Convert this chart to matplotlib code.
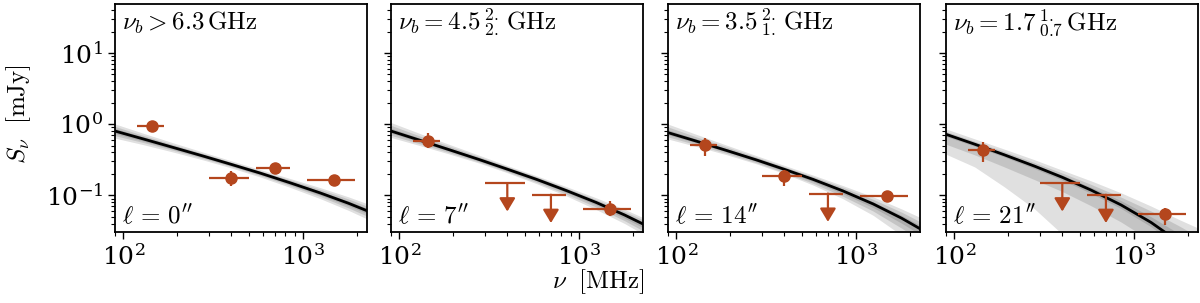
"""
Radio spectra in four slices along the tail (l = 0, 7, 14, 21 arcsec),
with the fitted spectral model and its credible bands.
"""
import numpy as np
import matplotlib
matplotlib.use('Agg')
import matplotlib.pyplot as plt
from matplotlib.ticker import NullFormatter

plt.rcParams['mathtext.fontset'] = 'cm'
plt.rcParams['font.family'] = ['DejaVu Serif']
plt.rcParams['axes.formatter.use_mathtext'] = True
plt.rcParams['axes.linewidth'] = 1.3

# ---- data ----
slice_labels = [r"$\ell\,=\,0''$", r"$\ell\,=\,7''$", r"$\ell\,=\,14''$", r"$\ell\,=\,21''$"]
break_labels = [r'$\nu_b > 6.3\,\mathrm{GHz}$',
                r'$\nu_b = 4.5\,{}^{2.}_{2.}\,\mathrm{GHz}$',
                r'$\nu_b = 3.5\,{}^{2.}_{1.}\,\mathrm{GHz}$',
                r'$\nu_b = 1.7\,{}^{1.}_{0.7}\,\mathrm{GHz}$']

# frequency grid of the model curve [MHz]
freq_grid = [90, 130, 190, 280, 400, 580, 850, 1250, 1800, 2280]

# median model flux [mJy]
model_p1 = [0.80, 0.617, 0.470, 0.355, 0.272, 0.205, 0.150, 0.108, 0.0772, 0.0607]
model_p2 = [0.80, 0.595, 0.437, 0.317, 0.233, 0.168, 0.117, 0.0794, 0.0529, 0.0395]
model_p3 = [0.76, 0.575, 0.428, 0.314, 0.232, 0.167, 0.115, 0.0756, 0.0477, 0.0339]
model_p4 = [0.72, 0.523, 0.371, 0.257, 0.179, 0.118, 0.0732, 0.0415, 0.0217, 0.0132]

# band half-widths in dex (inner, middle, outer), above / below the median
band_hi_p1 = [[0.035, 0.03, 0.025, 0.02, 0.02, 0.02, 0.02, 0.025, 0.03, 0.035],
              [0.065, 0.05, 0.04, 0.035, 0.03, 0.03, 0.04, 0.05, 0.06, 0.065],
              [0.10, 0.08, 0.065, 0.055, 0.05, 0.05, 0.06, 0.075, 0.09, 0.10]]
band_lo_p1 = [[0.035, 0.03, 0.025, 0.02, 0.02, 0.02, 0.025, 0.03, 0.035, 0.04],
              [0.065, 0.05, 0.04, 0.035, 0.03, 0.035, 0.04, 0.05, 0.065, 0.075],
              [0.10, 0.08, 0.065, 0.055, 0.05, 0.055, 0.065, 0.08, 0.10, 0.115]]
band_hi_p2 = [[0.04, 0.03, 0.025, 0.02, 0.02, 0.02, 0.02, 0.02, 0.025, 0.03],
              [0.08, 0.06, 0.05, 0.04, 0.035, 0.035, 0.035, 0.04, 0.05, 0.06],
              [0.12, 0.095, 0.075, 0.06, 0.05, 0.05, 0.055, 0.065, 0.08, 0.09]]
band_lo_p2 = [[0.03, 0.025, 0.02, 0.02, 0.02, 0.02, 0.025, 0.035, 0.045, 0.05],
              [0.06, 0.05, 0.04, 0.035, 0.035, 0.04, 0.05, 0.065, 0.08, 0.095],
              [0.09, 0.075, 0.06, 0.05, 0.05, 0.06, 0.075, 0.10, 0.12, 0.14]]
band_hi_p3 = [[0.04, 0.03, 0.025, 0.02, 0.02, 0.02, 0.025, 0.03, 0.04, 0.05],
              [0.08, 0.06, 0.05, 0.04, 0.035, 0.04, 0.05, 0.065, 0.085, 0.10],
              [0.12, 0.095, 0.075, 0.06, 0.055, 0.06, 0.075, 0.10, 0.13, 0.16]]
band_lo_p3 = [[0.03, 0.025, 0.02, 0.02, 0.025, 0.03, 0.04, 0.05, 0.07, 0.08],
              [0.06, 0.05, 0.04, 0.04, 0.045, 0.055, 0.075, 0.10, 0.14, 0.16],
              [0.09, 0.075, 0.06, 0.055, 0.06, 0.08, 0.11, 0.16, 0.24, 0.28]]
band_hi_p4 = [[0.02, 0.02, 0.02, 0.025, 0.03, 0.04, 0.06, 0.08, 0.12, 0.15],
              [0.04, 0.04, 0.045, 0.05, 0.06, 0.08, 0.11, 0.16, 0.23, 0.30],
              [0.075, 0.075, 0.08, 0.09, 0.10, 0.13, 0.17, 0.23, 0.32, 0.42]]
band_lo_p4 = [[0.03, 0.03, 0.03, 0.035, 0.04, 0.045, 0.05, 0.06, 0.07, 0.08],
              [0.14, 0.15, 0.17, 0.19, 0.20, 0.22, 0.24, 0.26, 0.28, 0.30],
              [0.28, 0.32, 0.45, 0.60, 0.80, 1.0, 1.2, 1.4, 1.6, 1.8]]

# observing bands [MHz]: centre, lower and upper edge
obs_freq = [144, 400, 700, 1500]
obs_freq_lo = [120, 300, 550, 1050]
obs_freq_hi = [168, 500, 850, 1950]

# detections: index into obs_freq, flux, error down, error up [mJy]
det_idx_p1 = [0, 1, 2, 3]
det_flux_p1 = [0.93, 0.177, 0.245, 0.163]
det_elo_p1 = [0.05, 0.044, 0.02, 0.012]
det_ehi_p1 = [0.05, 0.043, 0.02, 0.012]
det_idx_p2 = [0, 3]
det_flux_p2 = [0.58, 0.065]
det_elo_p2 = [0.12, 0.014]
det_ehi_p2 = [0.16, 0.018]
det_idx_p3 = [0, 1, 3]
det_flux_p3 = [0.51, 0.186, 0.097]
det_elo_p3 = [0.15, 0.052, 0.01]
det_ehi_p3 = [0.13, 0.038, 0.01]
det_idx_p4 = [0, 3]
det_flux_p4 = [0.434, 0.054]
det_elo_p4 = [0.144, 0.016]
det_ehi_p4 = [0.12, 0.013]

# upper limits
ul_idx_p1 = []
ul_flux_p1 = []
ul_idx_p2 = [1, 2]
ul_flux_p2 = [0.148, 0.102]
ul_idx_p3 = [2]
ul_flux_p3 = [0.106]
ul_idx_p4 = [1, 2]
ul_flux_p4 = [0.148, 0.102]

panels = [
    (model_p1, band_hi_p1, band_lo_p1, det_idx_p1, det_flux_p1, det_elo_p1, det_ehi_p1, ul_idx_p1, ul_flux_p1),
    (model_p2, band_hi_p2, band_lo_p2, det_idx_p2, det_flux_p2, det_elo_p2, det_ehi_p2, ul_idx_p2, ul_flux_p2),
    (model_p3, band_hi_p3, band_lo_p3, det_idx_p3, det_flux_p3, det_elo_p3, det_ehi_p3, ul_idx_p3, ul_flux_p3),
    (model_p4, band_hi_p4, band_lo_p4, det_idx_p4, det_flux_p4, det_elo_p4, det_ehi_p4, ul_idx_p4, ul_flux_p4),
]

color = '#b4461d'
W, H = 1200, 303
lefts = [115, 391, 668, 946]

fig = plt.figure(figsize=(W / 100, H / 100), dpi=100)
f = np.array(freq_grid, dtype=float)
nu = np.array(obs_freq, dtype=float)
nu_lo = nu - np.array(obs_freq_lo)
nu_hi = np.array(obs_freq_hi) - nu

for i, (model, b_hi, b_lo, d_idx, d_flux, d_elo, d_ehi, u_idx, u_flux) in enumerate(panels):
    ax = fig.add_axes([lefts[i] / W, 71 / H, 252 / W, 228 / H])
    med = np.array(model)
    # bands, outer first, each a light black layer
    for k in [2, 1, 0]:
        ax.fill_between(f, med / 10 ** np.array(b_lo[k]), med * 10 ** np.array(b_hi[k]),
                        color='k', alpha=0.12, lw=0)
    ax.plot(f, med, color='k', lw=2, zorder=3)

    # detections
    d_idx = np.array(d_idx, dtype=int)
    ax.errorbar(nu[d_idx], d_flux, xerr=[nu_lo[d_idx], nu_hi[d_idx]],
                yerr=[d_elo, d_ehi], fmt='o', color=color, ms=8,
                elinewidth=1.6, capsize=0, zorder=4)

    # upper limits: bar over the band plus an arrow pointing down
    if len(u_idx) > 0:
        u_idx = np.array(u_idx, dtype=int)
        ax.errorbar(nu[u_idx], u_flux, xerr=[nu_lo[u_idx], nu_hi[u_idx]],
                    fmt='none', ecolor=color, elinewidth=1.6, capsize=0, zorder=4)
        for x, s in zip(nu[u_idx], u_flux):
            ax.annotate('', xy=(x, s * 0.4), xytext=(x, s),
                        arrowprops=dict(arrowstyle='-|>,head_length=0.5,head_width=0.3',
                                        color=color, lw=1.6, shrinkA=0, shrinkB=0,
                                        mutation_scale=16),
                        zorder=4)

    ax.set_xscale('log')
    ax.set_yscale('log')
    ax.set_xlim(90, 2280)
    ax.set_ylim(0.0305, 48.8)
    ax.xaxis.set_minor_formatter(NullFormatter())
    ax.yaxis.set_minor_formatter(NullFormatter())
    ax.tick_params(which='major', direction='out', length=5, width=1, labelsize=18)
    ax.tick_params(which='minor', direction='out', length=3, width=0.8)
    if i > 0:
        ax.tick_params(labelleft=False)

    ax.text(0.027, 0.885, break_labels[i], transform=ax.transAxes,
            ha='left', va='baseline', fontsize=18)
    ax.text(0.027, 0.035, slice_labels[i], transform=ax.transAxes,
            ha='left', va='baseline', fontsize=18)

fig.text(598 / W, 1 - 282 / H, r'$\nu\ \ [\mathrm{MHz}]$', ha='center', va='center', fontsize=18)
fig.text(19 / W, 1 - 114 / H, r'$S_\nu\ \ [\mathrm{mJy}]$', ha='center', va='center',
         rotation=90, fontsize=18)

fig.savefig('out.png', dpi=100)
